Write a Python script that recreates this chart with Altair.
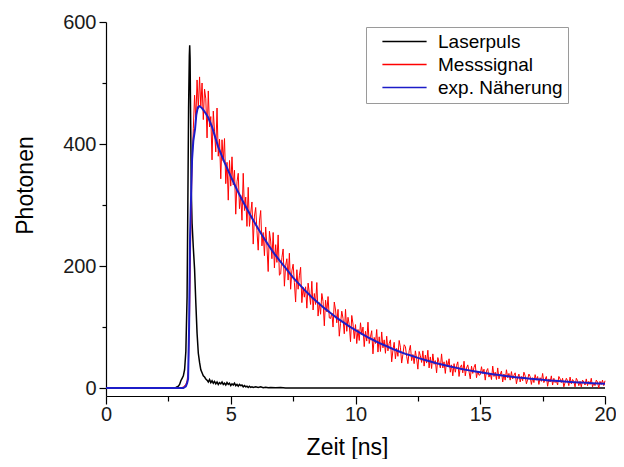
import altair as alt
import pandas as pd

series_names = ["Laserpuls", "Messsignal", "exp. Näherung"]
series_colors = ["#000000", "#ff0000", "#1c1cc8"]

# Laser pulse (black)
laser_t = [0.0, 2.7, 2.8, 2.9, 2.95, 3.0, 3.05, 3.1, 3.15, 3.2,
           3.25, 3.28, 3.31, 3.34, 3.355, 3.37, 3.39, 3.42, 3.45, 3.5,
           3.55, 3.6, 3.65, 3.7, 3.75, 3.8, 3.85, 3.9, 3.95, 4.0,
           4.05, 4.1, 4.15, 4.2, 4.25, 4.3, 4.35, 4.4, 4.45, 4.5,
           4.55, 4.6, 4.65, 4.7, 4.75, 4.8, 4.85, 4.9, 4.95, 5.0,
           5.05, 5.1, 5.15, 5.2, 5.25, 5.3, 5.35, 5.4, 5.45, 5.5,
           5.55, 5.6, 5.65, 5.7, 5.75, 5.8, 5.85, 5.9,
           6.0, 6.1, 6.2, 6.3, 6.4, 6.5, 6.6, 6.8, 7.0, 7.2, 20.0]
laser_counts = [0, 0, 1, 3, 6, 12, 16, 20, 30, 60,
                150, 300, 460, 545, 562, 540, 450, 320, 270, 230,
                195, 140, 90, 57, 42, 30, 25, 20, 18, 15,
                13, 10, 14, 9, 12, 8, 11, 7, 10, 6,
                9, 7, 10, 6, 8, 5, 9, 6, 8, 4,
                7, 5, 8, 4, 6, 3, 6, 4, 5, 2,
                4, 2, 3, 1, 3, 1, 2, 1,
                2, 1, 2, 0.5, 1.5, 0.5, 1, 0.5, 1, 0, 0]

# Measured signal (red)
signal_pre_t = [0.0, 3.0, 3.1, 3.2, 3.25]
signal_pre_counts = [0, 0, 2, 6, 12]
signal_t0 = 3.30
signal_dt = 0.05
signal_counts = [
    30, 120, 260, 365, 425, 480, 440, 505, 458, 510, 462, 500, 440, 490,
    474, 410, 487, 428, 445, 374, 454, 421, 387, 459, 380, 408, 343, 407, 372, 409, 335, 370, 308, 373,
    331, 379, 333, 357, 285, 338, 352, 294, 316, 275, 352, 291, 313, 265, 329, 265, 287, 305, 236, 282,
    296, 258, 226, 274, 291, 233, 255, 217, 264, 233, 191, 257, 241, 212, 255, 197, 235, 206, 251, 185,
    187, 214, 228, 167, 201, 212, 177, 221, 162, 192, 203, 173, 141, 194, 162, 184, 198, 140, 165, 149,
    166, 131, 172, 156, 137, 175, 128, 155, 137, 173, 118, 140, 121, 155, 142, 102, 144, 125, 150, 115,
    114, 123, 100, 141, 128, 107, 129, 85, 106, 126, 114, 89, 129, 93, 116, 104, 76, 119, 105, 81,
    104, 73, 96, 78, 107, 88, 100, 68, 93, 77, 108, 73, 84, 94, 56, 83, 73, 96, 59, 84,
    60, 92, 66, 79, 57, 85, 61, 73, 79, 43, 62, 75, 48, 65, 52, 78, 67, 41, 55, 71,
    68, 52, 40, 61, 70, 45, 55, 40, 61, 48, 31, 60, 53, 42, 61, 36, 54, 41, 62, 33,
    51, 32, 56, 39, 45, 25, 50, 42, 33, 56, 33, 43, 24, 45, 35, 48, 26, 38, 20, 40,
    26, 37, 43, 19, 34, 38, 25, 44, 20, 33, 38, 27, 15, 36, 24, 34, 39, 17, 28, 21,
    22, 35, 24, 31, 13, 28, 32, 18, 24, 14, 36, 19, 26, 14, 33, 15, 22, 28, 10, 23,
    13, 30, 17, 24, 13, 27, 15, 21, 25, 7, 17, 23, 10, 19, 12, 26, 20, 7, 14, 23,
    19, 6, 17, 9, 22, 13, 19, 6, 17, 11, 24, 9, 14, 19, 3, 15, 10, 20, 5, 16,
    9, 12, 5, 19, 15, 9, 16, 2, 9, 16, 12, 4, 18, 7, 14, 11, 2, 16, 12, 4,
    11, 2, 13, 10, 5, 15, 4, 11, 6, 16, 2, 8, 4, 13, 10, 0, 11, 6, 13, 4,
    12,
]

# Exponential fit (blue)
fit_t = [0.0, 3.1, 3.2, 3.25, 3.29, 3.33, 3.37, 3.42, 3.45, 3.5,
         3.57, 3.62, 3.68, 3.75, 3.82, 3.9, 4.0, 4.1, 4.25,
         4.5, 4.75, 5.0, 5.25, 5.5, 5.75, 6.0, 6.25, 6.5, 6.75,
         7.0, 7.25, 7.5, 7.75, 8.0, 8.25, 8.5, 8.75, 9.0, 9.25,
         9.5, 9.75, 10.0, 10.25, 10.5, 10.75, 11.0, 11.25, 11.5, 11.75,
         12.0, 12.25, 12.5, 12.75, 13.0, 13.25, 13.5, 13.75, 14.0, 14.25,
         14.5, 14.75, 15.0, 15.25, 15.5, 15.75, 16.0, 16.25, 16.5, 16.75,
         17.0, 17.25, 17.5, 17.75, 18.0, 18.25, 18.5, 18.75, 19.0, 19.25,
         19.5, 19.75, 20.0]
fit_counts = [0, 0, 3, 8, 15, 100, 250, 330, 375, 405,
              425, 448, 460, 462, 460, 456, 450, 443, 428,
              395, 370, 347, 325, 305, 286, 268, 251, 235, 220,
              207, 194, 181, 170, 159, 149, 140, 131, 123, 115,
              108, 101, 95, 89, 83, 78, 73, 68.5, 64, 60,
              56, 53, 49.5, 46.4, 43.5, 40.7, 38.2, 35.8, 33.5, 31.4,
              29.4, 27.6, 25.8, 24.2, 22.7, 21.3, 19.9, 18.7, 17.5, 16.4,
              15.4, 14.4, 13.5, 12.6, 11.8, 11.1, 10.4, 9.7, 9.1, 8.6,
              8.0, 7.5, 7.0]

x_ticks = [0, 2.5, 5, 7.5, 10, 12.5, 15, 17.5, 20]
y_ticks = [0, 100, 200, 300, 400, 500, 600]

assert len(laser_t) == len(laser_counts)
assert len(fit_t) == len(fit_counts)

rows = []
for t, v in zip(laser_t, laser_counts):
    rows.append({"series": series_names[0], "t": t, "v": v})
for t, v in zip(signal_pre_t, signal_pre_counts):
    rows.append({"series": series_names[1], "t": t, "v": v})
for i, v in enumerate(signal_counts):
    rows.append({"series": series_names[1], "t": round(signal_t0 + i * signal_dt, 3), "v": v})
for t, v in zip(fit_t, fit_counts):
    rows.append({"series": series_names[2], "t": t, "v": v})
df = pd.DataFrame(rows)

FONT = "Liberation Sans"

x_axis = alt.Axis(
    values=x_ticks,
    labelExpr="datum.value % 5 === 0 ? format(datum.value, 'd') : ''",
    tickSize={"condition": {"test": "datum.value % 5 === 0", "value": 8}, "value": 5},
    labelFlush=False,
    labelPadding=0,
    titleX=241,
    titleY=58,
    titleBaseline="alphabetic",
)
y_axis = alt.Axis(
    values=y_ticks,
    labelExpr="datum.value % 200 === 0 ? format(datum.value, 'd') : ''",
    tickSize={"condition": {"test": "datum.value % 200 === 0", "value": 7}, "value": 4},
    labelFlush=False,
    labelPadding=3,
    titleX=-74,
    titleY=163,
    titleAngle=270,
    titleBaseline="alphabetic",
)

color = alt.Color(
    "series:N",
    scale=alt.Scale(domain=series_names, range=series_colors),
    legend=alt.Legend(
        title=None,
        orient="none",
        legendX=260,
        legendY=5,
        symbolType="M-3.4,0H3.4",
        symbolSize=169,
        symbolStrokeWidth=1.5,
        symbolOffset=24,
        labelOffset=24,
        labelFont=FONT,
        labelFontSize=19,
        labelColor="#000000",
        strokeColor="#9a9a9a",
        fillColor="#ffffff",
        padding=5,
        rowPadding=3,
    ),
)

base = alt.Chart(df).encode(
    x=alt.X("t:Q", scale=alt.Scale(domain=[0, 20], nice=False, zero=False), axis=x_axis, title="Zeit [ns]"),
    y=alt.Y("v:Q", scale=alt.Scale(domain=[-13, 600], nice=False, zero=False), axis=y_axis, title="Photonen"),
    color=color,
    order=alt.Order("t:Q"),
)

laser = base.transform_filter(alt.datum.series == series_names[0]).mark_line(strokeWidth=1.5)
signal = base.transform_filter(alt.datum.series == series_names[1]).mark_line(strokeWidth=1)
fit = base.transform_filter(alt.datum.series == series_names[2]).mark_line(strokeWidth=2)

chart = (
    alt.layer(laser, signal, fit)
    .properties(
        width=499,
        height=374,
        autosize=alt.AutoSizeParams(type="none"),
        padding={"left": 98, "top": 14, "right": 11, "bottom": 63},
        background="white",
    )
    .configure_view(stroke=None)
    .configure_axis(
        grid=False,
        labelFont=FONT,
        titleFont=FONT,
        labelFontSize=20,
        titleFontSize=23,
        titleFontWeight="normal",
        labelColor="#1a1a1a",
        titleColor="#000000",
        domainColor="#000000",
        tickColor="#000000",
        domainWidth=1.2,
        tickWidth=1.2,
    )
)

chart.save("out.html", embed_options={"renderer": "svg", "actions": False})
